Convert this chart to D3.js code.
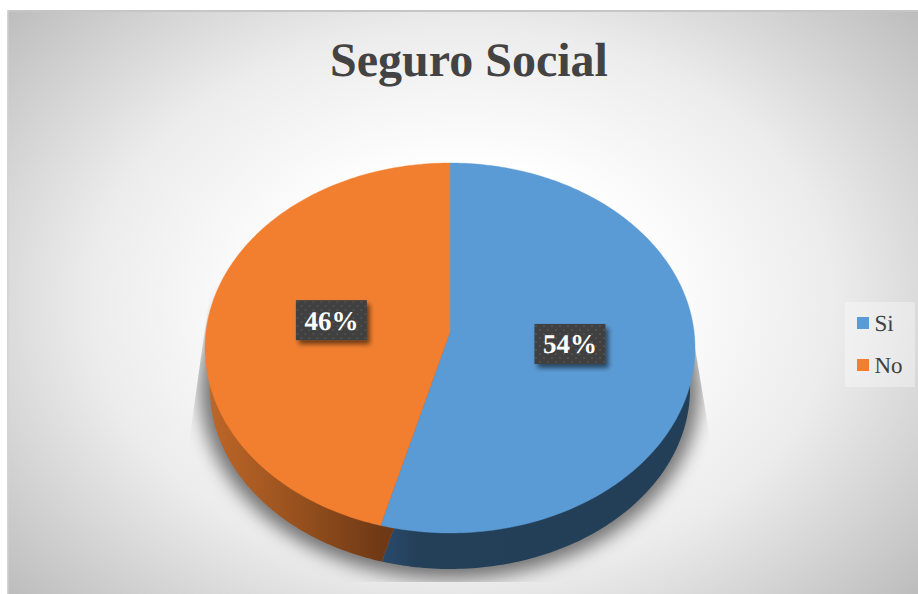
<!DOCTYPE html>
<html>
<head>
<meta charset="utf-8">
<script src="https://cdn.jsdelivr.net/npm/d3@7"></script>
<style>html,body{margin:0;padding:0;background:#fff}svg{display:block}text{font-family:"Liberation Serif",serif;text-rendering:geometricPrecision}</style>
</head>
<body>
<div id="chart"></div>
<script>
const titleText = "Seguro Social";
const categories = ["Si", "No"];
const values = [54.2, 45.8];
const labels = ["54%", "46%"];
const colors = ["#5b9bd5", "#f27f30"];

const W = 918, H = 594;
const svg = d3.select("#chart").append("svg").attr("width", W).attr("height", H);
const defs = svg.append("defs");

// background
const bg = defs.append("radialGradient").attr("id", "bg")
  .attr("gradientUnits", "userSpaceOnUse").attr("cx", 0).attr("cy", 0).attr("r", 1)
  .attr("gradientTransform", "translate(462.5,302) scale(602,444)");
[[0,"#ffffff"],[0.30,"#ffffff"],[0.62,"#ececec"],[1,"#bdbdbd"]].forEach(s =>
  bg.append("stop").attr("offset", s[0]).attr("stop-color", s[1]));

const rimA = defs.append("linearGradient").attr("id", "rim0").attr("gradientUnits","userSpaceOnUse")
  .attr("x1", 381).attr("x2", 692).attr("y1", 0).attr("y2", 0);
[[0,"#2a4a6c"],[0.12,"#243f58"],[1,"#233f57"]].forEach(s => rimA.append("stop").attr("offset", s[0]).attr("stop-color", s[1]));
const rimB = defs.append("linearGradient").attr("id", "rim1").attr("gradientUnits","userSpaceOnUse")
  .attr("x1", 210).attr("x2", 381).attr("y1", 0).attr("y2", 0);
[[0,"#bd6628"],[0.4,"#a05620"],[1,"#6f3915"]].forEach(s => rimB.append("stop").attr("offset", s[0]).attr("stop-color", s[1]));

defs.append("filter").attr("id", "blur").attr("x", "-20%").attr("y", "-20%").attr("width", "140%").attr("height", "140%")
  .append("feGaussianBlur").attr("stdDeviation", 9);
const ds = defs.append("filter").attr("id", "lblShadow").attr("x", "-30%").attr("y", "-30%").attr("width", "170%").attr("height", "170%");
ds.append("feDropShadow").attr("dx", 3).attr("dy", 4).attr("stdDeviation", 2.5).attr("flood-color", "#000").attr("flood-opacity", 0.55);
const pat = defs.append("pattern").attr("id", "dots").attr("patternUnits", "userSpaceOnUse").attr("width", 8).attr("height", 8);
pat.append("rect").attr("width", 8).attr("height", 8).attr("fill", "#3f3f3f");
pat.append("circle").attr("cx", 2).attr("cy", 2).attr("r", 1).attr("fill", "#565656");
pat.append("circle").attr("cx", 6).attr("cy", 6).attr("r", 1).attr("fill", "#565656");
defs.append("clipPath").attr("id", "shadowClip").append("polygon")
  .attr("points", "211,285 188,450 188,582 712,582 712,450 692,330");

// chart area
svg.append("rect").attr("x", 7).attr("y", 10).attr("width", W - 7).attr("height", H - 10).attr("fill", "url(#bg)");
svg.append("rect").attr("x", 7).attr("y", 10).attr("width", W - 7).attr("height", 2).attr("fill", "#c6c6c6");
svg.append("rect").attr("x", 7).attr("y", 10).attr("width", 1.5).attr("height", H - 10).attr("fill", "#d4d4d4");

svg.append("text").attr("x", 469).attr("y", 76).attr("text-anchor", "middle")
  .attr("font-size", 48).attr("font-weight", "bold").attr("fill", "#434343").text(titleText);

// perspective projection of the pie's disc
const disc = {cx: 450, cy: 348, rx: 245, ry: 185, a: -0.0865};
const base = {cx: 450, cy: 389, rx: 240, ry: 180, a: -0.0865};
function project(d, angle, r) {
  const X = Math.sin(angle) * r, Y = -Math.cos(angle) * r;
  const w = 1 + d.a * Y;
  return [d.cx + d.rx * X * Math.sqrt(1 - d.a * d.a) / w,
          d.cy + d.ry * (Y + d.a) / w];
}
function wedge(d, s) {
  const n = Math.max(2, Math.ceil((s.endAngle - s.startAngle) * 60));
  const pts = [project(d, 0, 0)];
  d3.range(n + 1).forEach(i => pts.push(project(d, s.startAngle + (s.endAngle - s.startAngle) * i / n, 1)));
  return d3.line()(pts) + "Z";
}
const pie = d3.pie().sort(null).value(v => v)(values);

// shadow
svg.append("g").attr("clip-path", "url(#shadowClip)")
  .append("path").attr("d", wedge({...base, cy: 389, rx: 250, ry: 190}, {startAngle: 0, endAngle: 2 * Math.PI}))
  .attr("fill", "#000").attr("fill-opacity", 0.52).attr("filter", "url(#blur)");

// rim
svg.append("g").selectAll("path").data(pie).join("path")
  .attr("d", s => wedge(base, s)).attr("fill", (s, i) => `url(#rim${i})`);
// top face
svg.append("g").selectAll("path").data(pie).join("path")
  .attr("d", s => wedge(disc, s)).attr("fill", (s, i) => colors[i])
  .attr("stroke", (s, i) => colors[i]).attr("stroke-width", 0.4);

// labels
const lg = svg.append("g").selectAll("g").data(pie).join("g")
  .attr("transform", s => {
    const p = project(disc, (s.startAngle + s.endAngle) / 2, 0.493);
    return `translate(${p[0]},${p[1]})`;
  });
lg.append("rect").attr("x", -35.5).attr("y", -20).attr("width", 71).attr("height", 40)
  .attr("fill", "url(#dots)").attr("filter", "url(#lblShadow)");
lg.append("text").attr("text-anchor", "middle").attr("y", 9.5)
  .attr("font-size", 27).attr("font-weight", "bold").attr("fill", "#fff").text((s, i) => labels[i]);

// legend
const legend = svg.append("g");
legend.append("rect").attr("x", 845).attr("y", 302).attr("width", 70).attr("height", 85).attr("fill", "#fff").attr("fill-opacity", 0.35);
const y = d3.scalePoint().domain(categories).range([323, 365]);
const li = legend.selectAll("g").data(categories).join("g").attr("transform", c => `translate(857,${y(c)})`);
li.append("rect").attr("y", -6).attr("width", 12).attr("height", 12).attr("fill", (c, i) => colors[i]);
li.append("text").attr("x", 17.5).attr("y", 8).attr("font-size", 23).attr("fill", "#404040").text(c => c);
</script>
</body>
</html>
